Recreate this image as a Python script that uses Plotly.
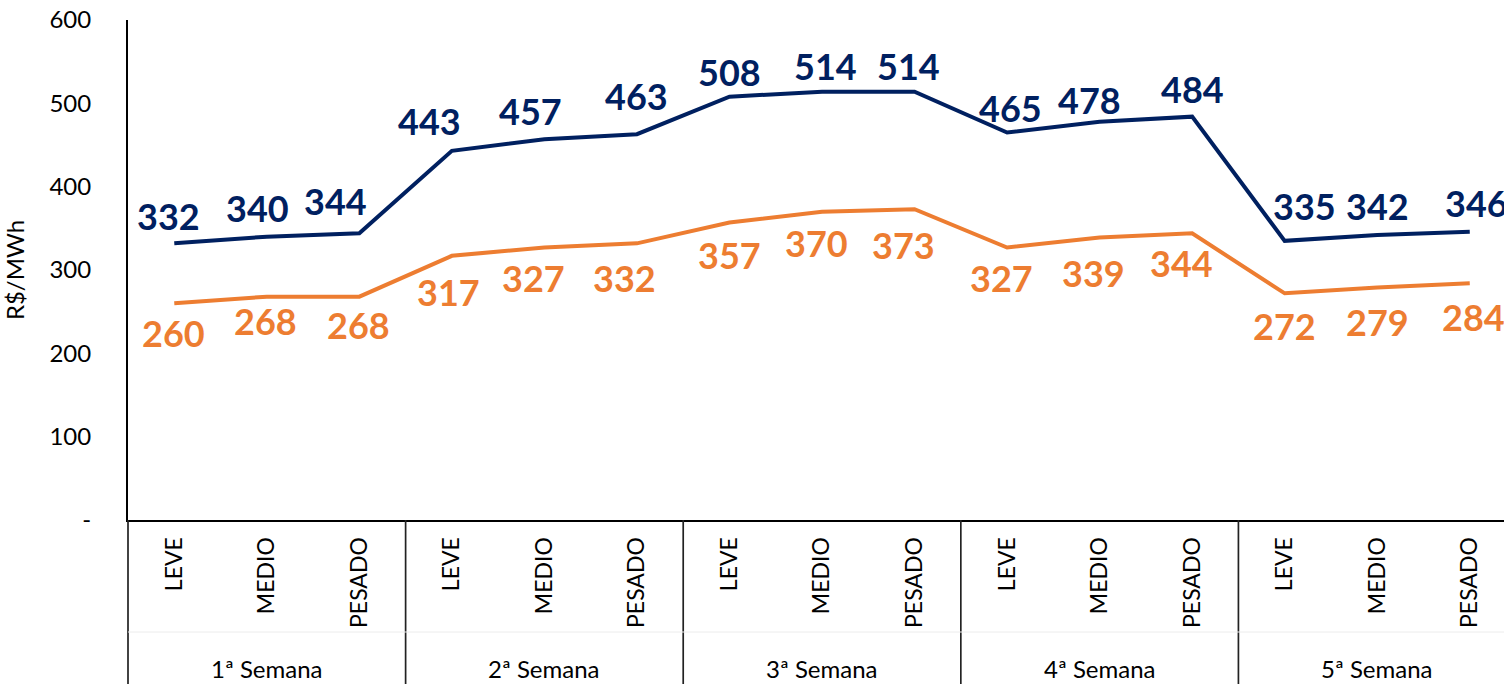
import plotly.graph_objects as go

# ---------------- data ----------------
weeks = ["1ª Semana", "2ª Semana", "3ª Semana", "4ª Semana", "5ª Semana"]
loads = ["LEVE", "MEDIO", "PESADO"]

serie_azul = [332, 340, 344, 443, 457, 463, 508, 514, 514, 465, 478, 484, 335, 342, 346]
serie_laranja = [260, 268, 268, 317, 327, 332, 357, 370, 373, 327, 339, 344, 272, 279, 284]

y_tickvals = [0, 100, 200, 300, 400, 500, 600]
y_ticktext = ["-", "100", "200", "300", "400", "500", "600"]

# label nudges (pixels) to mimic the manually placed data labels
dx_azul = [-6, -9, -24, -22, -14, 0, 0, 3, -6, 3, -10, 0, 20, 0, 7]
dy_azul = [27, 29, 32, 30, 28, 38, 25, 26, 26, 25, 22, 28, 35, 29, 29]
dx_laranja = [-1, -1, -1, -3, -11, -12, 0, -6, -11, -6, -6, -11, 0, 0, 4]
dy_laranja = [30, 24, 28, 36, 30, 35, 32, 31, 36, 30, 35, 30, 33, 34, 34]

# ---------------- styles ----------------
NAVY = "#002060"
ORANGE = "#ED7D31"
FONT = "Lato, 'Open Sans', sans-serif"

cat_labels = [ld for w in weeks for ld in loads]
x = list(range(len(cat_labels)))
n_per_week = len(loads)

fig = go.Figure()
fig.add_trace(go.Scatter(x=x, y=serie_azul, mode="lines", name="Série 1",
                         line=dict(color=NAVY, width=4), hoverinfo="skip"))
fig.add_trace(go.Scatter(x=x, y=serie_laranja, mode="lines", name="Série 2",
                         line=dict(color=ORANGE, width=4), hoverinfo="skip"))

annotations = []
for i, v in enumerate(serie_azul):
    annotations.append(dict(x=x[i], y=v, xref="x", yref="y", text=f"<b>{v}</b>",
                            showarrow=False, xanchor="center", yanchor="middle",
                            xshift=dx_azul[i], yshift=dy_azul[i],
                            font=dict(family=FONT, size=36, color=NAVY)))
for i, v in enumerate(serie_laranja):
    annotations.append(dict(x=x[i], y=v, xref="x", yref="y", text=f"<b>{v}</b>",
                            showarrow=False, xanchor="center", yanchor="middle",
                            xshift=dx_laranja[i], yshift=-dy_laranja[i],
                            font=dict(family=FONT, size=36, color=ORANGE)))

# week labels (outer category level)
for k, w in enumerate(weeks):
    annotations.append(dict(x=k * n_per_week + (n_per_week - 1) / 2, y=-0.296,
                            xref="x", yref="paper", text=w, showarrow=False,
                            xanchor="center", yanchor="middle",
                            font=dict(family=FONT, size=24, color="black")))

shapes = []
# week dividers
for k in range(1, len(weeks)):
    xb = k * n_per_week - 0.5
    shapes.append(dict(type="line", xref="x", yref="paper", x0=xb, x1=xb,
                       y0=0, y1=-0.33, line=dict(color="#222222", width=1.7)))
# left border of the category area
shapes.append(dict(type="line", xref="paper", yref="paper", x0=0, x1=0,
                   y0=0, y1=-0.33, line=dict(color="#222222", width=1.7)))
# faint separator between category levels
shapes.append(dict(type="line", xref="paper", yref="paper", x0=0, x1=1,
                   y0=-0.224, y1=-0.224, line=dict(color="#ececec", width=1)))

fig.update_layout(
    width=1504, height=684,
    margin=dict(l=128, r=0, t=20, b=164),
    paper_bgcolor="white", plot_bgcolor="white",
    showlegend=False,
    font=dict(family=FONT, size=24, color="black"),
    annotations=annotations,
    shapes=shapes,
)
fig.update_xaxes(
    range=[-0.5, 14.37],
    tickmode="array", tickvals=x, ticktext=cat_labels, tickangle=-90,
    tickfont=dict(family=FONT, size=23, color="black"),
    ticks="outside", ticklen=6, tickcolor="rgba(0,0,0,0)",
    showline=True, linecolor="black", linewidth=2,
    showgrid=False, zeroline=False,
)
fig.update_yaxes(
    range=[0, 600],
    tickmode="array", tickvals=y_tickvals, ticktext=y_ticktext,
    tickfont=dict(family=FONT, size=24, color="black"),
    ticks="outside", ticklen=30, tickcolor="rgba(0,0,0,0)",
    showline=True, linecolor="black", linewidth=2,
    showgrid=False, zeroline=False,
    title=dict(text="R$/MWh", font=dict(family=FONT, size=24, color="black"), standoff=20),
)

fig.write_html("out.html",
               config={"displayModeBar": False},
               post_script="document.body.style.margin='0';document.body.style.overflow='hidden';")
